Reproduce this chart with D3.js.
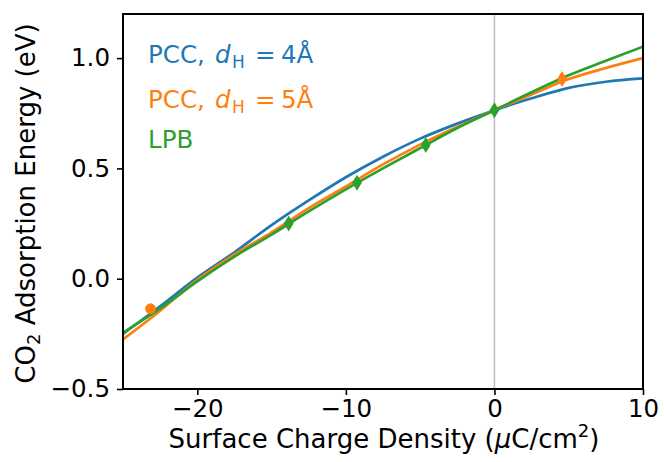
<!DOCTYPE html>
<html>
<head>
<meta charset="utf-8">
<script src="https://cdn.jsdelivr.net/npm/d3@7"></script>
<style>
  body { margin: 0; background: #fff; }
  svg text { font-family: "DejaVu Sans", sans-serif; }
</style>
</head>
<body>
<div id="chart"></div>
<script>
// charge density grid (uC/cm2)
var sigma = [-25, -22.5, -20, -17.5, -15, -12.5, -10, -7.5, -5, -2.5, 0, 2.5, 5, 7.5, 10];
// adsorption energy (eV)
var pcc4 = [-0.25, -0.125, 0.005, 0.12, 0.243, 0.355, 0.46, 0.553, 0.635, 0.703, 0.764, 0.818, 0.865, 0.893, 0.908];
var pcc5 = [-0.275, -0.145, -0.005, 0.11, 0.21, 0.32, 0.418, 0.518, 0.608, 0.688, 0.764, 0.835, 0.905, 0.955, 1.0];
var lpb = [-0.245, -0.135, -0.012, 0.1, 0.2, 0.305, 0.405, 0.5, 0.592, 0.683, 0.764, 0.845, 0.922, 0.988, 1.052];

// computed points
var circlePts = [{ x: -23.15, y: -0.136 }];
var orangeDiamonds = [{ x: 4.55, y: 0.905 }];
var greenDiamonds = [
    { x: -13.85, y: 0.25 },
    { x: -9.25, y: 0.435 },
    { x: -4.62, y: 0.606 },
    { x: 0, y: 0.764 }
];

var xTicks = [-20, -10, 0, 10];
var yTicks = [-0.5, 0.0, 0.5, 1.0];

var W = 664, H = 462;
var margin = { top: 14, right: 21, bottom: 73, left: 123 },
    width = W - margin.left - margin.right,
    height = H - margin.top - margin.bottom;

var FS = "24.5px", LFS = "26px", SUB = "17px", LSUB = "18px";

var svg = d3.select("#chart")
    .append("svg")
    .attr("width", W)
    .attr("height", H)
    .append("g")
    .attr("transform", "translate(" + margin.left + "," + margin.top + ")");

var x = d3.scaleLinear().domain([-25, 10]).range([0, width]);
var y = d3.scaleLinear().domain([-0.5, 1.2]).range([height, 0]);

svg.append("clipPath").attr("id", "clip")
    .append("rect").attr("width", width).attr("height", height);

// vertical line at zero
svg.append("line")
    .attr("x1", x(0)).attr("x2", x(0))
    .attr("y1", 0).attr("y2", height)
    .attr("stroke", "#bfbfbf")
    .attr("stroke-width", 1.6);

var series = [
    { name: "pcc4", values: pcc4, color: "#1f77b4" },
    { name: "pcc5", values: pcc5, color: "#ff7f0e" },
    { name: "lpb", values: lpb, color: "#2ca02c" }
];

var line = d3.line()
    .x(function (d, i) { return x(sigma[i]) })
    .y(function (d) { return y(d) })
    .curve(d3.curveMonotoneX);

var plot = svg.append("g").attr("clip-path", "url(#clip)");

plot.selectAll("myLines")
    .data(series)
    .enter()
    .append("path")
    .attr("d", function (d) { return line(d.values) })
    .attr("stroke", function (d) { return d.color })
    .style("stroke-width", 2.7)
    .style("fill", "none");

plot.selectAll("myCircles")
    .data(circlePts)
    .enter()
    .append("circle")
    .attr("cx", function (d) { return x(d.x) })
    .attr("cy", function (d) { return y(d.y) })
    .attr("r", 5.4)
    .attr("fill", "#ff7f0e");

// thin diamond like matplotlib 'd'
function diamond(d) {
    var cx = x(d.x), cy = y(d.y);
    return "M" + cx + "," + (cy - 8) + "L" + (cx + 4.9) + "," + cy +
        "L" + cx + "," + (cy + 8) + "L" + (cx - 4.9) + "," + cy + "Z";
}

plot.selectAll("orangeD")
    .data(orangeDiamonds)
    .enter()
    .append("path")
    .attr("d", diamond)
    .attr("fill", "#ff7f0e");

plot.selectAll("greenD")
    .data(greenDiamonds)
    .enter()
    .append("path")
    .attr("d", diamond)
    .attr("fill", "#2ca02c");

// axes
var xAxis = svg.append("g")
    .attr("transform", "translate(0," + height + ")")
    .call(d3.axisBottom(x).tickValues(xTicks).tickSize(6).tickPadding(5)
        .tickFormat(function (d) { return d < 0 ? "\u2212" + Math.abs(d) : d; }));
var yAxis = svg.append("g")
    .call(d3.axisLeft(y).tickValues(yTicks).tickSize(6).tickPadding(7)
        .tickFormat(function (d) { var s = Math.abs(d).toFixed(1); return d < 0 ? "\u2212" + s : s; }));

[xAxis, yAxis].forEach(function (a) {
    a.select(".domain").remove();
    a.selectAll("line").attr("stroke", "#000").attr("stroke-width", 1.6);
    a.selectAll("text").attr("fill", "#000").style("font-size", FS)
        .style("font-family", "DejaVu Sans, sans-serif");
});

// frame
svg.append("rect")
    .attr("width", width).attr("height", height)
    .attr("fill", "none").attr("stroke", "#000").attr("stroke-width", 2);

// axis labels
var xl = svg.append("text")
    .attr("x", width / 2 + 1)
    .attr("y", height + 59)
    .attr("text-anchor", "middle")
    .style("font-size", LFS);
xl.append("tspan").text("Surface Charge Density (");
xl.append("tspan").style("font-style", "italic").text("\u03bc");
xl.append("tspan").text("C/cm");
xl.append("tspan").attr("dy", -11).style("font-size", LSUB).text("2");
xl.append("tspan").attr("dy", 11).text(")");

var yl = svg.append("text")
    .attr("transform", "translate(" + (-88) + "," + (height / 2 + 2) + ") rotate(-90)")
    .attr("text-anchor", "middle")
    .style("font-size", LFS);
yl.append("tspan").text("CO");
yl.append("tspan").attr("dy", 5).style("font-size", LSUB).text("2");
yl.append("tspan").attr("dy", -5).text(" Adsorption Energy (eV)");

// legend
var legend = [
    { label: "PCC,", sub: "4", color: "#1f77b4", y: 49.3 },
    { label: "PCC,", sub: "5", color: "#ff7f0e", y: 93.7 },
    { label: "LPB", sub: null, color: "#2ca02c", y: 133.7 }
];
legend.forEach(function (l) {
    var t = svg.append("text")
        .attr("x", 25)
        .attr("y", l.y)
        .attr("fill", l.color)
        .style("font-size", FS);
    t.append("tspan").text(l.label);
    if (l.sub) {
        t.append("tspan").attr("x", 92).style("font-style", "italic").text("d");
        t.append("tspan").attr("x", 109).attr("dy", 5).style("font-size", SUB).text("H");
        t.append("tspan").attr("x", 132).attr("dy", -5).text("=");
        t.append("tspan").attr("x", 158).text(l.sub + "\u00c5");
    }
});
</script>
</body>
</html>
